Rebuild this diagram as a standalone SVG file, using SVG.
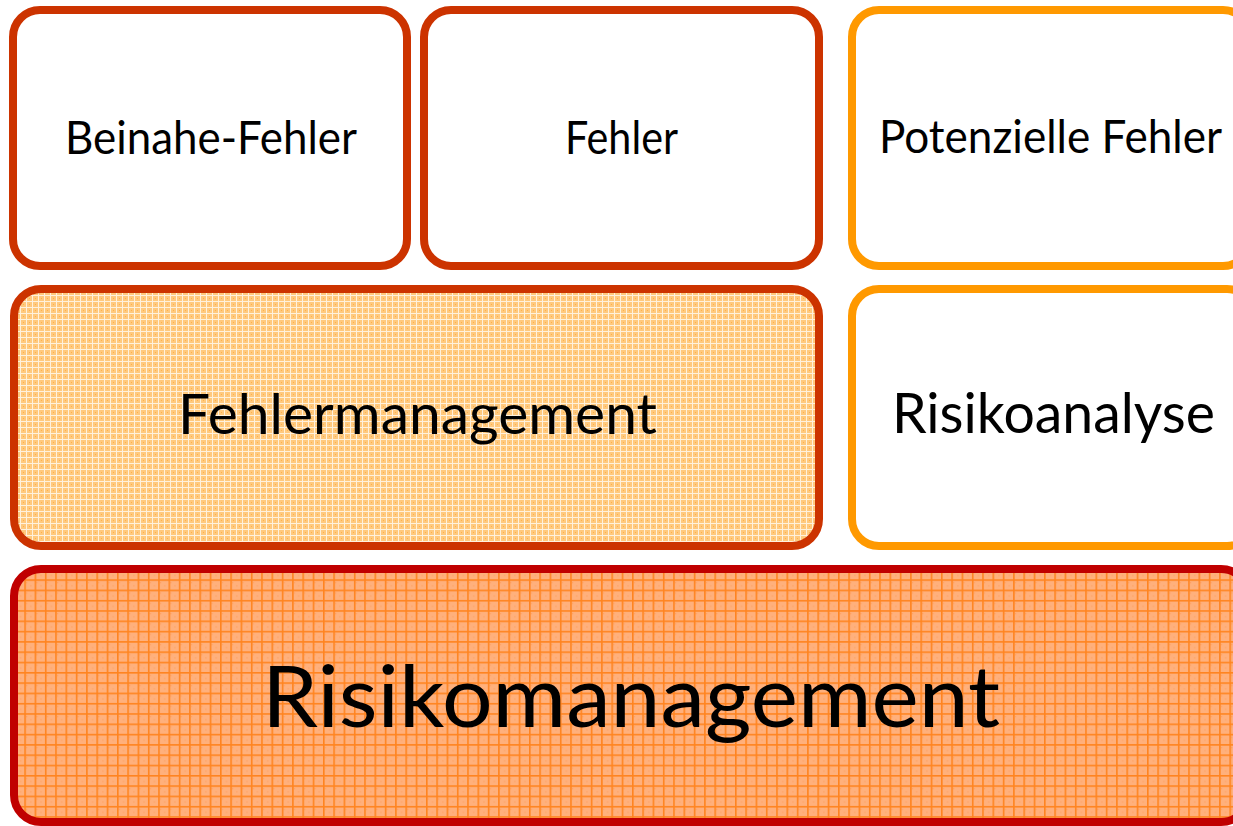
<svg xmlns="http://www.w3.org/2000/svg" width="1233" height="826" viewBox="0 0 1233 826">
<style>
.box{stroke-width:8}
.red{stroke:#CC3300}
.org{stroke:#FF9900}
.dred{stroke:#C00000}
text{font-family:Lato,"Open Sans","Liberation Sans",sans-serif;fill:#000;text-anchor:middle}
</style>
<defs>
<pattern id="gridDark" width="10.3" height="10.3" patternUnits="userSpaceOnUse" x="14" y="569">
<rect width="10.3" height="10.3" fill="#FFB07C"/>
<rect x="2" y="3" width="1" height="1" fill="#FF9A55"/>
<rect x="6" y="6" width="1" height="1" fill="#FF9A55"/>
<rect x="0" y="0" width="10.3" height="1.6" fill="#FF8420"/>
<rect x="0" y="0" width="1.6" height="10.3" fill="#FF8420"/>
</pattern>
<pattern id="gridLight" width="6" height="6" patternUnits="userSpaceOnUse" x="14" y="289">
<rect width="6" height="6" fill="#FFC97E"/>
<rect x="3" y="3" width="1" height="1" fill="#FFB04A"/>
<rect x="0" y="0" width="6" height="1" fill="#FFF1DC"/>
<rect x="0" y="0" width="1" height="6" fill="#FFF1DC"/>
</pattern>
</defs>
<rect width="1233" height="826" fill="#FFFFFF"/>
<g id="beinahe-fehler">
<rect class="box red" x="13" y="10" width="394" height="256" rx="27" fill="#FFFFFF"/>
<text x="211" y="154" font-size="46" textLength="292" lengthAdjust="spacingAndGlyphs">Beinahe-Fehler</text>
</g>
<g id="fehler">
<rect class="box red" x="424" y="10" width="395" height="256" rx="27" fill="#FFFFFF"/>
<text x="621.5" y="154" font-size="46" textLength="113" lengthAdjust="spacingAndGlyphs">Fehler</text>
</g>
<g id="potenzielle-fehler">
<rect class="box org" x="852" y="10" width="398" height="256" rx="27" fill="#FFFFFF"/>
<text x="1050.5" y="153" font-size="46" textLength="343" lengthAdjust="spacingAndGlyphs">Potenzielle Fehler</text>
</g>
<g id="fehlermanagement">
<rect class="box red" x="14" y="289" width="805" height="257" rx="27" fill="url(#gridLight)"/>
<text x="417.5" y="434" font-size="56" textLength="479" lengthAdjust="spacingAndGlyphs">Fehlermanagement</text>
</g>
<g id="risikoanalyse">
<rect class="box org" x="852" y="289" width="402" height="257" rx="27" fill="#FFFFFF"/>
<text x="1053.5" y="433" font-size="56" textLength="323" lengthAdjust="spacingAndGlyphs">Risikoanalyse</text>
</g>
<g id="risikomanagement">
<rect class="box dred" x="14" y="569" width="1234" height="253" rx="27" fill="url(#gridDark)"/>
<text x="631" y="727" font-size="86" textLength="738" lengthAdjust="spacingAndGlyphs">Risikomanagement</text>
</g>
<g id="connectors"/>
</svg>
